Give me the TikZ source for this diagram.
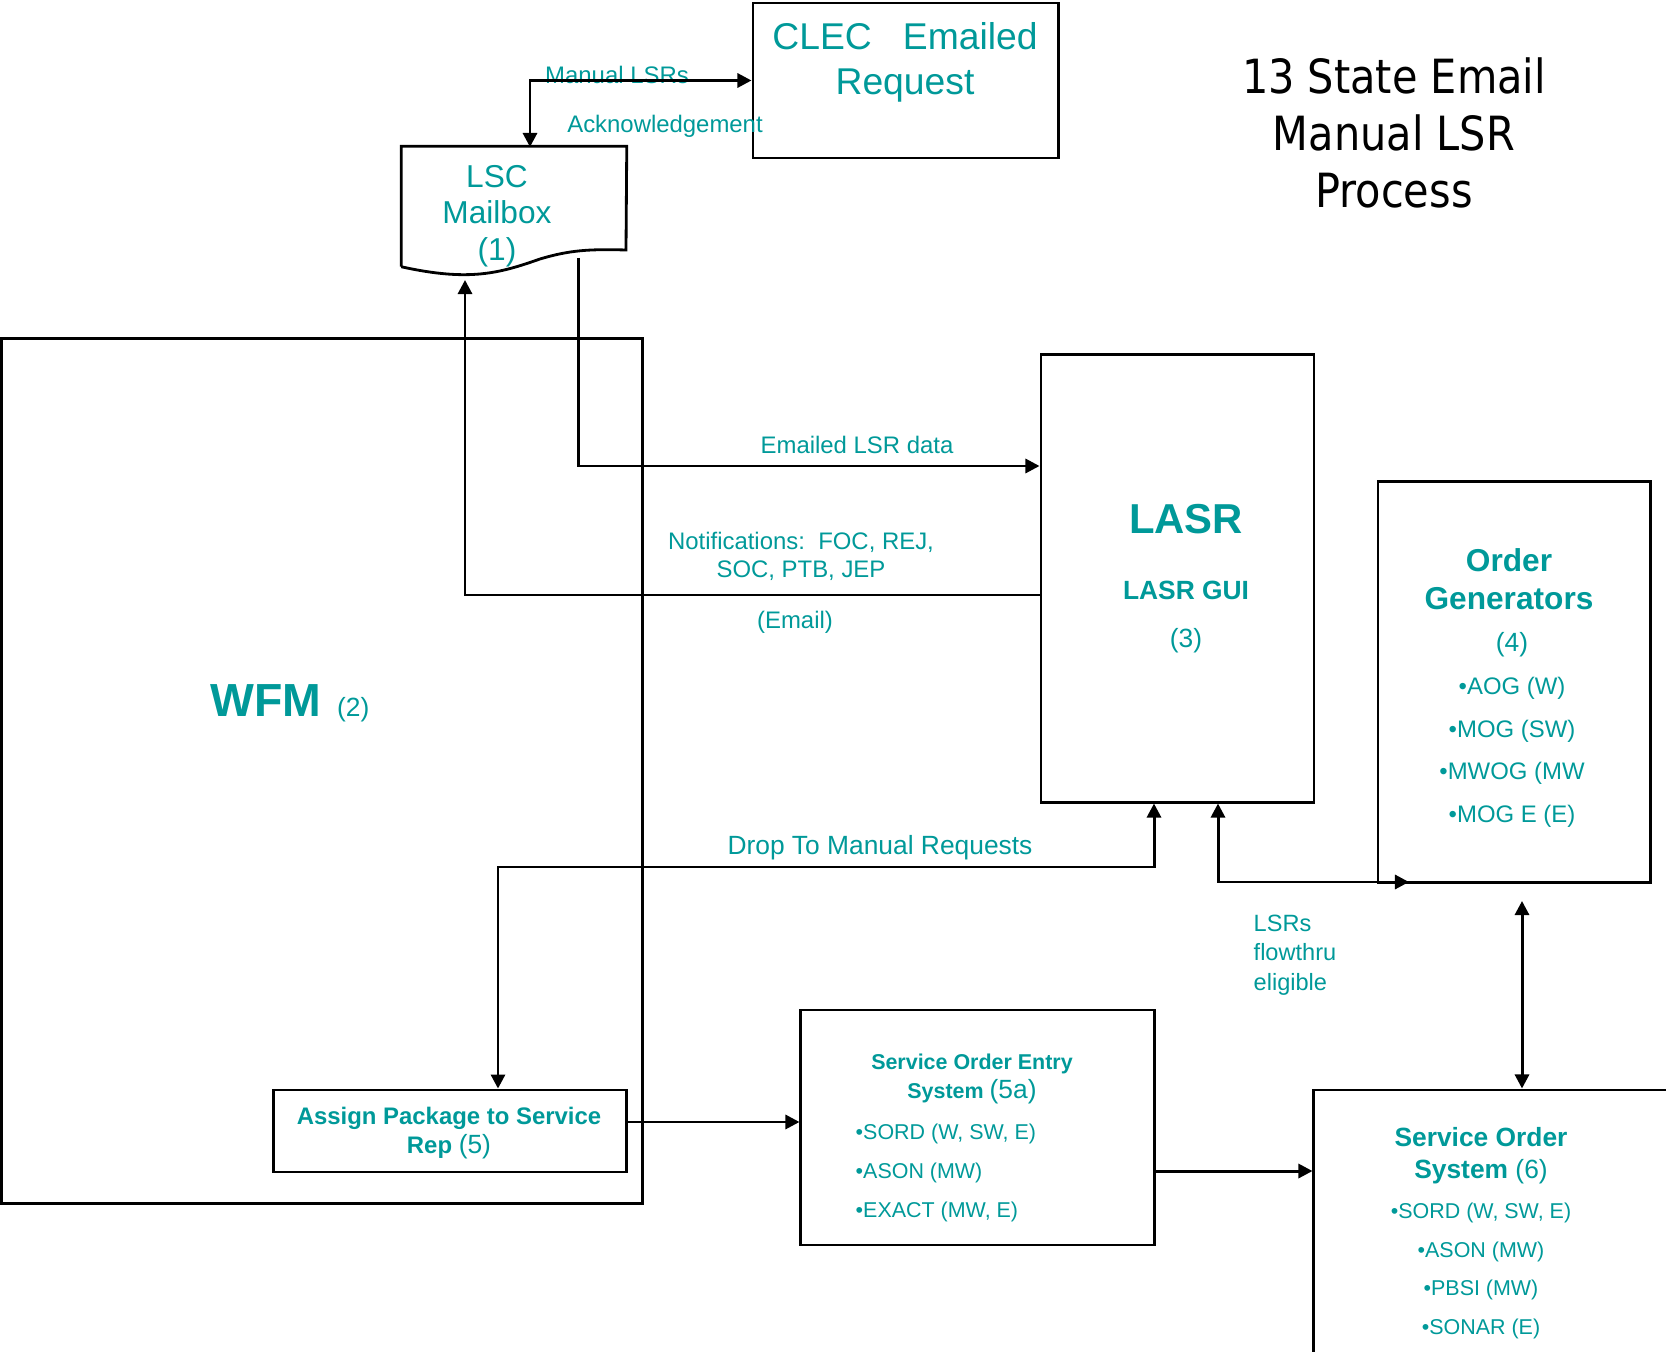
\documentclass[tikz,border=0pt]{standalone}
\usepackage{fontspec}
\setmainfont{Liberation Sans}
\newfontfamily\titlefont[FakeStretch=0.88]{DejaVu Sans}
\usetikzlibrary{arrows.meta}
\definecolor{flowteal}{RGB}{0,153,153}
\tikzset{
	sysbox/.style={draw, line width=0.8pt, inner sep=0pt},
	flowtxt/.style={text=flowteal, inner sep=0pt, align=center},
	conn/.style={line width=0.85pt},
	>={Triangle[length=4pt,width=4pt]}
}

\begin{document}
\begin{tikzpicture}[x=0.01cm,y=-0.01cm]
	\useasboundingbox (0,0) rectangle (1666,1352);

	%Boxes
	\node [sysbox, minimum width=3.05cm, minimum height=1.55cm] (clec) at (905.5,80.5) {};
	\node [sysbox, minimum width=6.40cm, minimum height=8.64cm] (wfm) at (322,771) {};
	\node [sysbox, minimum width=2.73cm, minimum height=4.47cm] (lasr) at (1177.5,578.5) {};
	\node [sysbox, minimum width=2.72cm, minimum height=4.00cm] (ordgen) at (1514,682) {};
	\node [sysbox, minimum width=3.52cm, minimum height=0.82cm] (assign) at (450,1131) {};
	\node [sysbox, minimum width=3.53cm, minimum height=2.35cm] (soe) at (977.5,1127.5) {};
	\node [sysbox, minimum width=3.86cm, minimum height=3.10cm] (sos) at (1507,1245) {};

	%LSC mailbox (document shape)
	\node [inner sep=0pt, minimum width=2.24cm, minimum height=1.19cm] (lsc) at (514,206.5) {};
	\draw [line width=0.8pt] (lsc.south west) -- (lsc.north west) -- (lsc.north east) -- (626,250)
		.. controls (590,249) and (570,250) .. (540,259) .. controls (500,273) and (470,282) .. (lsc.south west);

	%Title
	\node [align=center, inner sep=0pt, font=\titlefont\fontsize{13.4}{16.2}\selectfont] (title) at (1394,132.5) {13 State Email\\Manual LSR\\Process};

	%Box texts
	\node [flowtxt, font=\fontsize{10.6}{12.8}\selectfont] (clectxt) at (905,62) {CLEC\ \ \ Emailed\\Request};
	\node [flowtxt, font=\fontsize{9}{10.4}\selectfont] (lsctxt) at (497,216) {LSC\\Mailbox\\(1)};
	\node [flowtxt, anchor=base] (wfmtxt) at (290,716) {{\fontsize{13.2}{15}\selectfont\bfseries WFM}\hspace{4.5pt}{\fontsize{7.5}{9}\selectfont(2)}};
	\node [flowtxt, font=\fontsize{11.9}{14}\selectfont\bfseries] (lasrtxt) at (1186,519) {LASR};
	\node [flowtxt, font=\fontsize{7.5}{9}\selectfont\bfseries] (lasrgui) at (1186,590) {LASR GUI};
	\node [flowtxt, font=\fontsize{7.5}{9}\selectfont] (lasrnum) at (1186,641) {(3)};
	\node [flowtxt, font=\fontsize{9}{10.8}\selectfont\bfseries] (ordgentxt) at (1509,579) {Order\\Generators};
	\node [flowtxt, font=\fontsize{6.8}{12.1}\selectfont] (ordgenlist) at (1512,730) {{\fontsize{7.5}{9}\selectfont(4)}\\•AOG (W)\\•MOG (SW)\\•MWOG (MW\\•MOG E (E)};
	\node [flowtxt, font=\fontsize{6.8}{8.3}\selectfont\bfseries] (assigntxt) at (449,1133) {Assign Package to Service\\Rep {\mdseries\fontsize{7.5}{8.3}\selectfont(5)}};
	\node [flowtxt, font=\fontsize{6.1}{8.5}\selectfont\bfseries] (soetxt) at (972,1079) {Service Order Entry\\System {\mdseries\fontsize{7.5}{8.5}\selectfont(5a)}};
	\node [flowtxt, align=left, anchor=west, font=\fontsize{6.1}{11}\selectfont] (soelist) at (855,1173) {•SORD (W, SW, E)\\•ASON (MW)\\•EXACT (MW, E)};
	\node [flowtxt, font=\fontsize{7.5}{9.1}\selectfont\bfseries] (sostxt) at (1481,1156) {Service Order\\System {\mdseries(6)}};
	\node [flowtxt, font=\fontsize{6.1}{11}\selectfont] (soslist) at (1481,1271) {•SORD (W, SW, E)\\•ASON (MW)\\•PBSI (MW)\\•SONAR (E)};

	%Connector labels
	\node [flowtxt, font=\fontsize{6.8}{8}\selectfont] (manlsr) at (617,75) {Manual LSRs};
	\node [flowtxt, font=\fontsize{6.8}{8}\selectfont] (ack) at (665,126) {Acknowledgement};
	\node [flowtxt, font=\fontsize{6.8}{8}\selectfont] (lsrdata) at (857,445) {Emailed LSR data};
	\node [flowtxt, font=\fontsize{6.8}{8}\selectfont] (notif) at (801,556) {Notifications:\ \ FOC, REJ,\\SOC, PTB, JEP};
	\node [flowtxt, font=\fontsize{6.8}{8}\selectfont] (email) at (795,622) {(Email)};
	\node [flowtxt, font=\fontsize{7.5}{9}\selectfont] (droplbl) at (880,848) {Drop To Manual Requests};
	\node [flowtxt, align=left, anchor=west, font=\fontsize{6.7}{8.4}\selectfont] (flowlbl) at (1253,955) {LSRs\\flowthru\\eligible};

	%Connector points
	\coordinate (lscin) at (530,147);
	\coordinate (lscout) at (578,258);
	\coordinate (lscret) at (465,280);
	\coordinate (lsrrow) at (578,466);
	\coordinate (notrow) at (465,595);
	\coordinate (dropx) at (1154,867);
	\coordinate (dropdown) at (498,867);
	\coordinate (flowx) at (1218,882);
	\coordinate (flowend) at (1409,882);
	\coordinate (ogsos) at (1522,901);
	\coordinate (asgout) at ([yshift=0.09cm]assign.east);
	\coordinate (soeout) at ([yshift=-0.435cm]soe.east);

	%Connectors
	\draw [conn, <->] (lscin) |- (clec.west);
	\draw [conn, ->] (lscout) -- (lsrrow) -- (lsrrow -| lasr.west);
	\draw [conn, ->] (notrow -| lasr.west) -- (notrow) -- (lscret);
	\draw [conn, <->] (dropx |- lasr.south) -- (dropx) -- (dropdown) -- (dropdown |- assign.north);
	\draw [conn, <->] (flowx |- lasr.south) -- (flowx) -- (flowend);
	\draw [conn, <->] (ogsos) -- (ogsos |- sos.north);
	\draw [conn, ->] (asgout) -- (asgout -| soe.west);
	\draw [conn, ->] (soeout) -- (soeout -| sos.west);
\end{tikzpicture}
\end{document}
